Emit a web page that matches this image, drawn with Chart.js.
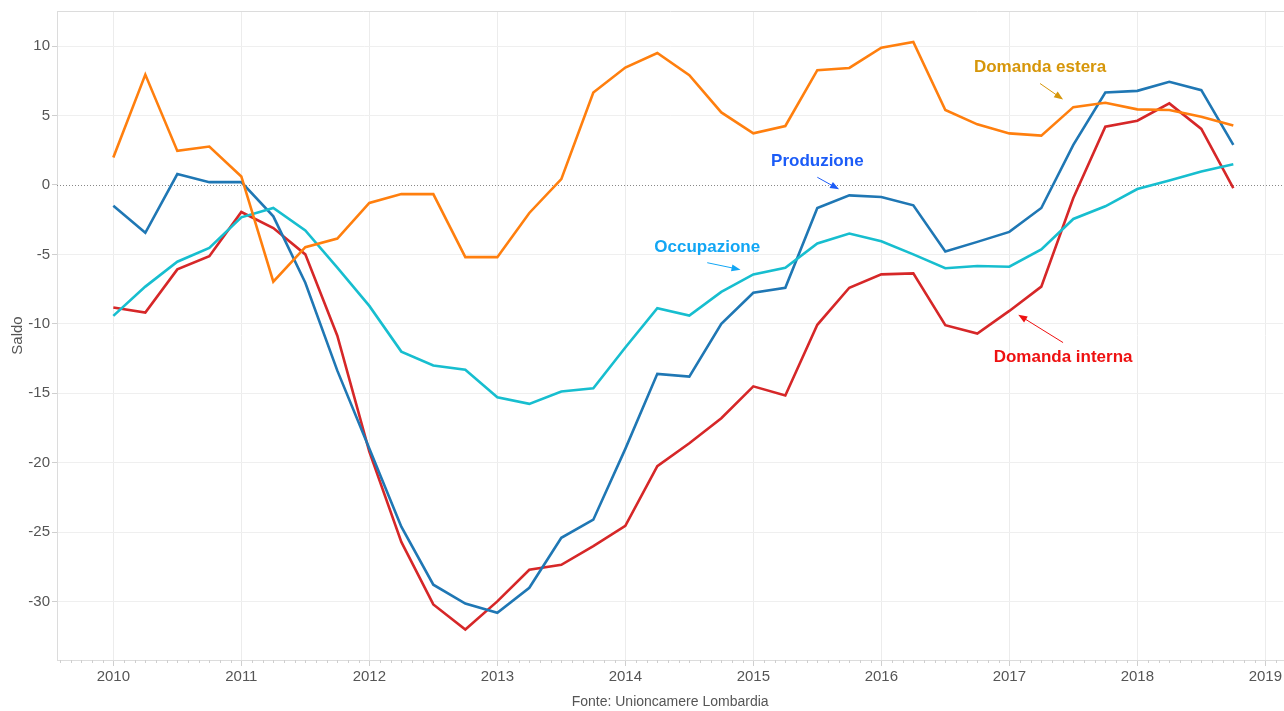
<!DOCTYPE html>
<html>
<head>
<meta charset="utf-8">
<script src="https://cdn.jsdelivr.net/npm/chart.js@4.4.1/dist/chart.umd.min.js"></script>
<style>
    html, body { margin: 0; padding: 0; background: #fff; }
    #wrap { width: 1284px; height: 711px; }
</style>
</head>
<body>
<div id="wrap"><canvas id="saldoChart" width="1284" height="711"></canvas></div>
<script>
// Quarterly data, 2010 T1 .. 2018 T4
const quarters = [
    2010, 2010.25, 2010.5, 2010.75, 2011, 2011.25, 2011.5, 2011.75,
    2012, 2012.25, 2012.5, 2012.75, 2013, 2013.25, 2013.5, 2013.75,
    2014, 2014.25, 2014.5, 2014.75, 2015, 2015.25, 2015.5, 2015.75,
    2016, 2016.25, 2016.5, 2016.75, 2017, 2017.25, 2017.5, 2017.75,
    2018, 2018.25, 2018.5, 2018.75
];

const produzione = [
    -1.5, -3.45, 0.78, 0.2, 0.2, -2.26, -7.04, -13.37,
    -18.98, -24.6, -28.78, -30.14, -30.8, -29.0, -25.4, -24.1,
    -19.0, -13.6, -13.8, -10.0, -7.76, -7.4, -1.66, -0.75,
    -0.87, -1.47, -4.8, -4.1, -3.38, -1.66, 2.88, 6.65,
    6.77, 7.42, 6.82, 2.88
];

const domandaInterna = [
    -8.83, -9.19, -6.08, -5.13, -1.95, -3.1, -5.0, -10.86,
    -19.2, -25.7, -30.2, -32.0, -29.98, -27.7, -27.35, -26.0,
    -24.55, -20.25, -18.6, -16.8, -14.5, -15.16, -10.07, -7.4,
    -6.44, -6.37, -10.1, -10.7, -9.07, -7.32, -0.94, 4.19,
    4.62, 5.87, 4.03, -0.23
];

const occupazione = [
    -9.43, -7.32, -5.53, -4.53, -2.33, -1.66, -3.28, -5.96,
    -8.71, -12.0, -13.0, -13.3, -15.28, -15.76, -14.87, -14.64,
    -11.7, -8.88, -9.4, -7.7, -6.44, -5.96, -4.22, -3.5,
    -4.05, -5.0, -6.0, -5.84, -5.89, -4.65, -2.45, -1.54,
    -0.3, 0.32, 0.97, 1.49
];

const domandaEstera = [
    1.97, 7.94, 2.45, 2.76, 0.61, -6.97, -4.48, -3.86,
    -1.3, -0.66, -0.66, -5.2, -5.2, -2.02, 0.42, 6.65,
    8.45, 9.5, 7.9, 5.22, 3.71, 4.24, 8.26, 8.42,
    9.88, 10.29, 5.39, 4.36, 3.71, 3.55, 5.6, 5.91,
    5.44, 5.39, 4.91, 4.27
];

const yearTicks = [2010, 2011, 2012, 2013, 2014, 2015, 2016, 2017, 2018, 2019];
const saldoTicks = [-30, -25, -20, -15, -10, -5, 0, 5, 10];

// text labels placed in data units
const notes = [
    { text: 'Domanda estera', color: '#d6960a', x: 2017.24, y: 8.5, from: [2017.24, 7.3], to: [2017.42, 6.15] },
    { text: 'Produzione', color: '#1c5cf7', x: 2015.5, y: 1.68, from: [2015.5, 0.55], to: [2015.67, -0.32] },
    { text: 'Occupazione', color: '#12a6f4', x: 2014.64, y: -4.48, from: [2014.64, -5.6], to: [2014.9, -6.1] },
    { text: 'Domanda interna', color: '#ee1111', x: 2017.42, y: -12.44, from: [2017.42, -11.35], to: [2017.07, -9.35] }
];

function toPoints(values) {
    return values.map((v, i) => ({ x: quarters[i], y: v }));
}

function series(label, values, color) {
    return {
        label: label,
        data: toPoints(values),
        borderColor: color,
        backgroundColor: color,
        borderWidth: 2.6,
        pointRadius: 0,
        tension: 0,
        fill: false
    };
}

// Dotted zero line, top frame, minor ticks, annotations
const extras = {
    id: 'extras',
    beforeDatasetsDraw(chart) {
        const { ctx, chartArea, scales } = chart;
        const y0 = Math.round(scales.y.getPixelForValue(0)) + 0.5;
        ctx.save();
        ctx.strokeStyle = '#888';
        ctx.lineWidth = 1;
        ctx.setLineDash([1, 2]);
        ctx.beginPath();
        ctx.moveTo(chartArea.left, y0);
        ctx.lineTo(chart.width, y0);
        ctx.stroke();
        ctx.setLineDash([]);

        ctx.strokeStyle = '#dcdcdc';
        ctx.beginPath();
        ctx.moveTo(chartArea.left, chartArea.top + 0.5);
        ctx.lineTo(chart.width, chartArea.top + 0.5);
        ctx.stroke();

        // small monthly ticks under the x axis
        ctx.strokeStyle = '#cfcfcf';
        for (let yr = 2009; yr <= 2019; yr++) {
            for (let m = 1; m < 12; m++) {
                const px = scales.x.getPixelForValue(yr + m / 12);
                if (px < chartArea.left || px > chart.width) continue;
                ctx.beginPath();
                ctx.moveTo(Math.round(px) + 0.5, chartArea.bottom);
                ctx.lineTo(Math.round(px) + 0.5, chartArea.bottom + 3);
                ctx.stroke();
            }
        }
        ctx.restore();
    },
    afterDatasetsDraw(chart) {
        const { ctx, scales } = chart;
        ctx.save();
        notes.forEach(n => {
            const tx = scales.x.getPixelForValue(n.x);
            const ty = scales.y.getPixelForValue(n.y);
            ctx.font = 'bold 17px "Liberation Sans", Arial, sans-serif';
            ctx.fillStyle = n.color;
            ctx.textAlign = 'center';
            ctx.textBaseline = 'middle';
            ctx.fillText(n.text, tx, ty);

            const x1 = scales.x.getPixelForValue(n.from[0]);
            const y1 = scales.y.getPixelForValue(n.from[1]);
            const x2 = scales.x.getPixelForValue(n.to[0]);
            const y2 = scales.y.getPixelForValue(n.to[1]);
            const ang = Math.atan2(y2 - y1, x2 - x1);
            ctx.strokeStyle = n.color;
            ctx.lineWidth = 1;
            ctx.beginPath();
            ctx.moveTo(x1, y1);
            ctx.lineTo(x2 - 6 * Math.cos(ang), y2 - 6 * Math.sin(ang));
            ctx.stroke();
            ctx.beginPath();
            ctx.moveTo(x2, y2);
            ctx.lineTo(x2 - 9 * Math.cos(ang) + 3.5 * Math.sin(ang), y2 - 9 * Math.sin(ang) - 3.5 * Math.cos(ang));
            ctx.lineTo(x2 - 9 * Math.cos(ang) - 3.5 * Math.sin(ang), y2 - 9 * Math.sin(ang) + 3.5 * Math.cos(ang));
            ctx.closePath();
            ctx.fillStyle = n.color;
            ctx.fill();
        });
        ctx.restore();
    }
};

const tickFont = { family: '"Liberation Sans", Arial, sans-serif', size: 15 };

const ctx = document.getElementById('saldoChart').getContext('2d');
const chart = new Chart(ctx, {
    type: 'line',
    data: {
        datasets: [
            series('Domanda estera', domandaEstera, '#ff7f0e'),
            series('Occupazione', occupazione, '#17becf'),
            series('Produzione', produzione, '#1f77b4'),
            series('Domanda interna', domandaInterna, '#d62728')
        ]
    },
    options: {
        responsive: false,
        animation: false,
        layout: { padding: { top: 9, right: 0, bottom: 0, left: 0 } },
        plugins: {
            legend: { display: false },
            tooltip: { enabled: false }
        },
        scales: {
            x: {
                type: 'linear',
                min: 2009.56,
                max: 2019.14,
                afterBuildTicks: s => { s.ticks = yearTicks.map(v => ({ value: v })); },
                afterFit: s => { s.height = 51; },
                ticks: {
                    color: '#555',
                    font: tickFont,
                    padding: 2,
                    maxRotation: 0,
                    autoSkip: false,
                    callback: v => String(v)
                },
                grid: { color: '#ececec', lineWidth: 1, tickLength: 6, tickColor: '#cfcfcf' },
                border: { color: '#dcdcdc', width: 1 },
                title: {
                    display: true,
                    text: 'Fonte: Unioncamere Lombardia',
                    color: '#555',
                    font: { family: '"Liberation Sans", Arial, sans-serif', size: 14 },
                    padding: { top: 0, bottom: 0 }
                }
            },
            y: {
                min: -34.2,
                max: 12.52,
                afterBuildTicks: s => { s.ticks = saldoTicks.map(v => ({ value: v })); },
                afterFit: s => { s.width = 57; },
                ticks: { color: '#555', font: tickFont, padding: 2 },
                grid: {
                    color: c => (c.tick && c.tick.value === 0) ? 'rgba(0,0,0,0)' : '#efefef',
                    lineWidth: 1,
                    tickLength: 5,
                    tickColor: '#cfcfcf'
                },
                border: { color: '#dcdcdc', width: 1 },
                title: {
                    display: true,
                    text: 'Saldo',
                    color: '#555',
                    font: { family: '"Liberation Sans", Arial, sans-serif', size: 15 },
                    padding: { top: 9, bottom: 0 }
                }
            }
        }
    },
    plugins: [extras]
});
</script>
</body>
</html>
